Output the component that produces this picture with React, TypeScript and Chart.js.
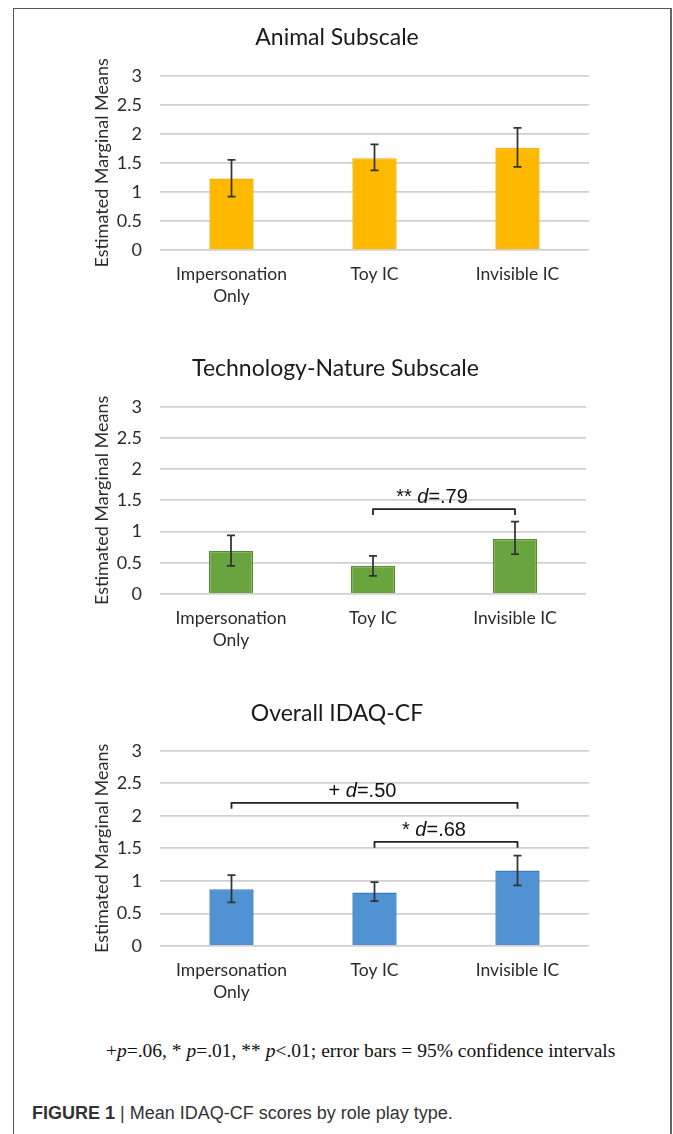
import React, { useEffect, useRef } from 'react';
import { Chart, registerables } from 'chart.js';

Chart.register(...registerables);

// ---------- data ----------
const categories: (string | string[])[] = [['Impersonation', 'Only'], 'Toy IC', 'Invisible IC'];
const yMin = 0;
const yMax = 3;
const yStep = 0.5;
const yAxisTitle = 'Estimated Marginal Means';

const animalTitle = 'Animal Subscale';
const animalMeans = [1.23, 1.58, 1.76];
const animalLow = [0.92, 1.37, 1.43];
const animalHigh = [1.55, 1.82, 2.1];

const techTitle = 'Technology-Nature Subscale';
const techMeans = [0.69, 0.45, 0.88];
const techLow = [0.45, 0.29, 0.64];
const techHigh = [0.94, 0.61, 1.16];
const techBracketFrom = [1];
const techBracketTo = [2];
const techBracketLevel = [1.36];
const techBracketMark = ['**'];
const techBracketD = ['.79'];

const overallTitle = 'Overall IDAQ-CF';
const overallMeans = [0.87, 0.82, 1.16];
const overallLow = [0.67, 0.69, 0.93];
const overallHigh = [1.09, 0.98, 1.39];
const overallBracketFrom = [0, 1];
const overallBracketTo = [2, 2];
const overallBracketLevel = [2.2, 1.6];
const overallBracketMark = ['+', '*'];
const overallBracketD = ['.50', '.68'];

// ---------- component ----------
const FONT = 'Lato, "Open Sans", sans-serif';

type PanelProps = {
  title: string;
  means: number[];
  low: number[];
  high: number[];
  fill: string;
  border: string;
  brFrom?: number[];
  brTo?: number[];
  brLevel?: number[];
  brMark?: string[];
  brD?: string[];
  top: number;
  height: number;
  titlePadTop: number;
  titlePadBottom: number;
  padRight: number;
};

function Panel(p: PanelProps) {
  const ref = useRef<HTMLCanvasElement | null>(null);

  useEffect(() => {
    if (!ref.current) return;

    const errorBars = {
      id: 'errorBars',
      afterDatasetsDraw(chart: any) {
        const { ctx } = chart;
        const meta = chart.getDatasetMeta(0);
        const ys = chart.scales.y;
        ctx.save();
        ctx.strokeStyle = '#333333';
        ctx.lineWidth = 1.75;
        meta.data.forEach((bar: any, i: number) => {
          const x = bar.x;
          const yl = ys.getPixelForValue(p.low[i]);
          const yh = ys.getPixelForValue(p.high[i]);
          ctx.beginPath();
          ctx.moveTo(x, yh);
          ctx.lineTo(x, yl);
          ctx.moveTo(x - 4, yh);
          ctx.lineTo(x + 4, yh);
          ctx.moveTo(x - 4, yl);
          ctx.lineTo(x + 4, yl);
          ctx.stroke();
        });
        ctx.restore();
      },
    };

    const brackets = {
      id: 'brackets',
      afterDatasetsDraw(chart: any) {
        const from = p.brFrom || [];
        if (!from.length) return;
        const { ctx } = chart;
        const xs = chart.scales.x;
        const ys = chart.scales.y;
        ctx.save();
        from.forEach((f, k) => {
          const x1 = xs.getPixelForValue(f);
          const x2 = xs.getPixelForValue(p.brTo![k]);
          const y = ys.getPixelForValue(p.brLevel![k]);
          ctx.strokeStyle = '#222222';
          ctx.lineWidth = 1.8;
          ctx.lineJoin = 'round';
          ctx.beginPath();
          ctx.moveTo(x1, y + 6);
          ctx.lineTo(x1, y);
          ctx.lineTo(x2, y);
          ctx.lineTo(x2, y + 6);
          ctx.stroke();

          const normal = '20px "Liberation Sans", Arial, sans-serif';
          const italic = 'italic 20px "Liberation Sans", Arial, sans-serif';
          const pre = p.brMark![k] + ' ';
          const mid = 'd';
          const post = '=' + p.brD![k];
          ctx.font = normal;
          const wPre = ctx.measureText(pre).width;
          const wPost = ctx.measureText(post).width;
          ctx.font = italic;
          const wMid = ctx.measureText(mid).width;
          const total = wPre + wMid + wPost;
          let x = (x1 + x2) / 2 - 12 - total / 2;
          const by = y - 6;
          ctx.fillStyle = '#111111';
          ctx.textBaseline = 'alphabetic';
          ctx.textAlign = 'left';
          ctx.font = normal;
          ctx.fillText(pre, x, by);
          x += wPre;
          ctx.font = italic;
          ctx.fillText(mid, x, by);
          x += wMid;
          ctx.font = normal;
          ctx.fillText(post, x, by);
        });
        ctx.restore();
      },
    };

    const chart = new Chart(ref.current, {
      type: 'bar',
      data: {
        labels: categories as any,
        datasets: [
          {
            data: p.means,
            backgroundColor: p.fill,
            borderColor: p.border,
            borderWidth: 1.5,
            barPercentage: 0.31,
            categoryPercentage: 1,
          },
        ],
      },
      options: {
        responsive: true,
        maintainAspectRatio: false,
        animation: false,
        layout: { padding: { left: 85, right: p.padRight, top: 0, bottom: 0 } },
        plugins: {
          legend: { display: false },
          tooltip: { enabled: false },
          title: {
            display: true,
            text: p.title,
            color: '#1a1a1a',
            font: { family: FONT, size: 23, weight: 'normal', lineHeight: 1.2 },
            padding: { top: p.titlePadTop, bottom: p.titlePadBottom },
          },
        },
        scales: {
          x: {
            grid: { display: false, drawTicks: false },
            border: { display: false },
            ticks: {
              color: '#2b2b2b',
              padding: 13,
              font: { family: FONT, size: 17.5, lineHeight: 22 / 17.5 },
            },
            afterFit: (s: any) => {
              s.height = 60;
            },
          },
          y: {
            min: yMin,
            max: yMax,
            grid: { color: '#d0d0d0', lineWidth: 1.8, drawTicks: false },
            border: { display: false },
            ticks: {
              stepSize: yStep,
              padding: 18,
              color: '#2b2b2b',
              font: { family: FONT, size: 18 },
              callback: (v: any) => String(v),
            },
            title: {
              display: true,
              text: yAxisTitle,
              color: '#2b2b2b',
              font: { family: FONT, size: 18, lineHeight: 1.2 },
              padding: { top: 5.9, bottom: 0 },
            },
            afterFit: (s: any) => {
              s.width = 75;
            },
          },
        },
      } as any,
      plugins: [errorBars, brackets],
    });
    return () => chart.destroy();
  }, []);

  return (
    <div style={{ position: 'absolute', left: 0, top: p.top, width: 673, height: p.height }}>
      <canvas ref={ref} />
    </div>
  );
}

export default function App() {
  return (
    <div
      style={{
        position: 'absolute',
        left: 0,
        top: 0,
        width: 673,
        height: 1134,
        overflow: 'hidden',
        background: '#ffffff',
      }}
    >
      <div
        style={{
          position: 'absolute',
          left: 13,
          top: 8,
          width: 659,
          height: 1140,
          boxSizing: 'border-box',
          borderTop: '1.5px solid #555',
          borderLeft: '1.5px solid #555',
          borderRight: '2px solid #666',
        }}
      />
      <Panel
        title={animalTitle}
        means={animalMeans}
        low={animalLow}
        high={animalHigh}
        fill="#FFB900"
        border="#F5B000"
        top={10}
        height={300}
        titlePadTop={13.5}
        titlePadBottom={24.6}
        padRight={84}
      />
      <Panel
        title={techTitle}
        means={techMeans}
        low={techLow}
        high={techHigh}
        fill="#6AA43F"
        border="#558F30"
        brFrom={techBracketFrom}
        brTo={techBracketTo}
        brLevel={techBracketLevel}
        brMark={techBracketMark}
        brD={techBracketD}
        top={330}
        height={324}
        titlePadTop={25.2}
        titlePadBottom={23.9}
        padRight={87}
      />
      <Panel
        title={overallTitle}
        means={overallMeans}
        low={overallLow}
        high={overallHigh}
        fill="#5092D2"
        border="#3D7DBE"
        brFrom={overallBracketFrom}
        brTo={overallBracketTo}
        brLevel={overallBracketLevel}
        brMark={overallBracketMark}
        brD={overallBracketD}
        top={670}
        height={336}
        titlePadTop={29.5}
        titlePadBottom={23.6}
        padRight={84}
      />
      <div
        style={{
          position: 'absolute',
          left: 106,
          top: 1039,
          fontFamily: '"Liberation Serif", "Times New Roman", serif',
          fontSize: 19.5,
          lineHeight: '24px',
          color: '#111111',
          whiteSpace: 'nowrap',
        }}
      >
        +<i>p</i>=.06, * <i>p</i>=.01, ** <i>p</i>&lt;.01; error bars = 95% confidence intervals
      </div>
      <div
        style={{
          position: 'absolute',
          left: 32,
          top: 1103,
          fontFamily: '"Liberation Sans", Arial, sans-serif',
          fontSize: 18,
          lineHeight: '21px',
          color: '#333333',
          whiteSpace: 'nowrap',
        }}
      >
        <b>FIGURE 1</b> | Mean IDAQ-CF scores by role play type.
      </div>
    </div>
  );
}
